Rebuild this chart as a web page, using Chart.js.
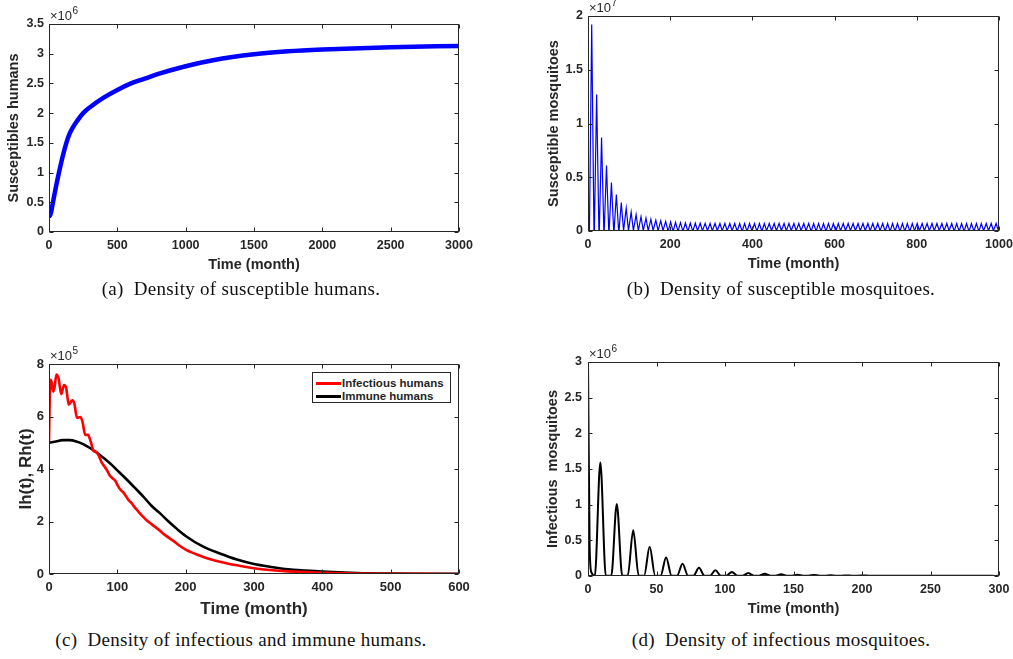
<!DOCTYPE html>
<html><head><meta charset="utf-8">
<script src="https://cdn.jsdelivr.net/npm/chart.js@4"></script>
<style>
html,body{margin:0;padding:0;background:#fff;overflow:hidden;width:1013px;height:659px;position:relative;}
canvas{position:absolute;}
.cap{position:absolute;font-family:'Liberation Serif','Times New Roman',serif;font-size:19px;line-height:18px;color:#111;white-space:pre;letter-spacing:0.3px;transform:translateX(-50%);}
#legend{position:absolute;left:312px;top:372px;width:137px;height:29px;border:1px solid #262626;background:#fff;font:bold 11.5px 'Liberation Sans',Arial,sans-serif;color:#262626;}
#legend .row{position:absolute;left:0;height:13px;line-height:13px;white-space:nowrap;}
#legend .ln{position:absolute;left:3px;top:5px;width:25px;height:3px;}
#legend .tx{position:absolute;left:29px;top:0;}
</style></head>
<body>
<canvas id="ca" width="500" height="280" style="left:0;top:0"></canvas>
<canvas id="cb" width="540" height="280" style="left:500px;top:0"></canvas>
<canvas id="cc" width="500" height="290" style="left:0;top:330px"></canvas>
<canvas id="cd" width="540" height="290" style="left:500px;top:330px"></canvas>
<div id="legend"></div>
<div class="cap" style="left:241px;top:280px">(a)  Density of susceptible humans.</div>
<div class="cap" style="left:781px;top:280px">(b)  Density of susceptible mosquitoes.</div>
<div class="cap" style="left:241px;top:631px">(c)  Density of infectious and immune humans.</div>
<div class="cap" style="left:781px;top:631px">(d)  Density of infectious mosquitoes.</div>
<script>
// ---------- DATA ----------
// (a) susceptible humans, values in units of 10^6
const aTime = [0,5,15,29,50,73,100,127,150,175,200,250,300,400,500,600,700,800,1000,1200,1500,1750,2000,2500,3000];
const aSusHumans = [0.29,0.27,0.33,0.5,0.75,1.0,1.27,1.5,1.65,1.76,1.85,2.0,2.1,2.26,2.39,2.5,2.58,2.66,2.79,2.89,2.99,3.04,3.07,3.11,3.13];

// (b) susceptible mosquitoes, units of 10^7: start, peak times and peak values
const bStart = {t:0, v:0.1};
const bTroughLevel = 0.003;
const bPeakTimes = [9,21,33,45,57,69,81,93,105,117,129,141,153,165,177,189,201,213,225,237,249,261,273,285,297,309,321,333,345,357,369,381,393,405,417,429,441,453,465,477,489,501,513,525,537,549,561,573,585,597,609,621,633,645,657,669,681,693,705,717,729,741,753,765,777,789,801,813,825,837,849,861,873,885,897,909,921,933,945,957,969,981,993];
const bPeakValues = [1.92,1.27,0.87,0.61,0.45,0.34,0.265,0.212,0.176,0.152,0.133,0.12,0.109,0.101,0.095,0.089,0.085,0.081,0.078,0.076,
  0.074,0.073,0.072,0.071,0.07,0.07,0.07,0.07,0.07,0.07,
  0.07,0.07,0.07,0.07,0.07,0.07,0.07,0.07,0.07,0.07,
  0.07,0.07,0.07,0.07,0.07,0.07,0.07,0.07,0.07,0.07,
  0.07,0.07,0.07,0.07,0.07,0.07,0.07,0.07,0.07,0.07,
  0.07,0.07,0.07,0.07,0.07,0.07,0.07,0.07,0.07,0.07,
  0.07,0.07,0.07,0.07,0.07,0.07,0.07,0.07,0.07,0.07,
  0.07,0.07,0.07];

// (c) infectious and immune humans, units of 10^5
const cRedTime = [0,1,2,4,6,8,11,14,18,22,25,29,34,37,41,46,49,53,57,61,65,69,73,77,81,85,89,93,97,101,105,109,113,117,121,125,130,135,140,145,150,160,170,180,190,200,225,250,275,300,350,400,450,500,550,600];
const cInfectious = [5.05,6.6,7.4,7.3,6.95,7.1,7.6,7.45,6.85,7.2,7.1,6.45,6.62,6.5,5.95,5.98,5.8,5.3,5.3,5.05,4.7,4.65,4.5,4.25,4.1,3.95,3.75,3.65,3.55,3.35,3.2,3.1,2.95,2.8,2.7,2.55,2.4,2.25,2.12,2.0,1.9,1.7,1.48,1.3,1.1,0.93,0.66,0.47,0.33,0.22,0.1,0.05,0.02,0.01,0.004,0.002];
const cBlackTime = [0,10,20,30,40,50,60,74,90,100,113,125,138,150,163,175,188,200,225,250,275,300,325,350,375,400,450,500,550,600];
const cImmune = [5.0,5.05,5.1,5.1,5.05,4.95,4.8,4.54,4.2,3.95,3.62,3.3,2.95,2.6,2.3,2.0,1.7,1.45,1.05,0.78,0.55,0.38,0.27,0.18,0.13,0.09,0.04,0.015,0.006,0.003];
const cLabels = ['Infectious humans','Immune humans'];

// (d) infectious mosquitoes, units of 10^6
const dStartTime = [0,1.2,2.5];
const dStartValues = [3.0,0.4,0.05];
const dBaseLevel = 0.005;
const dPeakTimes = [9,21,33,45,57,69,81,93,105,117,129,141,153,165,177,189,201,213,225,237,249,261,273,285,297];
const dPeakValues = [1.59,1.01,0.64,0.41,0.26,0.17,0.115,0.08,0.057,0.042,0.031,0.023,0.017,0.013,0.01,0.008,0.006,0.005,0.004,0.003,0.003,0.002,0.002,0.002,0.001];

// tick settings
const aXTicks = {min:0,max:3000,step:500}, aYTicks = {min:0,max:3.5,step:0.5};
const bXTicks = {min:0,max:1000,step:200}, bYTicks = {min:0,max:2,step:0.5};
const cXTicks = {min:0,max:600,step:100}, cYTicks = {min:0,max:8,step:2};
const dXTicks = {min:0,max:300,step:50}, dYTicks = {min:0,max:3,step:0.5};

// ---------- RENDER ----------
const TXT = '#262626';
const FF = "'Liberation Sans', Arial, sans-serif";
const fmt = v => String(Math.round(v*1000)/1000);

const matlabBox = {
  id:'matlabBox',
  afterDraw(chart, args, opts){
    const {ctx, chartArea:a} = chart;
    const x = chart.scales.x, y = chart.scales.y;
    ctx.save();
    ctx.strokeStyle = TXT; ctx.lineWidth = 1;
    const l = Math.round(a.left)+0.5, r = Math.round(a.right)-0.5, t = Math.round(a.top)+0.5, b = Math.round(a.bottom)-0.5;
    ctx.strokeRect(l, t, r-l, b-t);
    const L = 4;
    ctx.beginPath();
    x.ticks.forEach(tk => { const px = Math.round(x.getPixelForValue(tk.value))+0.5; ctx.moveTo(px,b); ctx.lineTo(px,b-L); ctx.moveTo(px,t); ctx.lineTo(px,t+L); });
    y.ticks.forEach(tk => { const py = Math.round(y.getPixelForValue(tk.value))+0.5; ctx.moveTo(l,py); ctx.lineTo(l+L,py); ctx.moveTo(r,py); ctx.lineTo(r-L,py); });
    ctx.stroke();
    ctx.fillStyle = TXT; ctx.textAlign = 'left'; ctx.textBaseline = 'alphabetic';
    ctx.font = "13px " + FF;
    const base = '\u00d710';
    ctx.fillText(base, a.left+1, a.top-4);
    const w = ctx.measureText(base).width;
    ctx.font = "10px " + FF;
    ctx.fillText(opts.exponent, a.left+1+w+0.5, a.top-10);
    ctx.restore();
  }
};

function makeOptions(c){
  return {
    responsive:false, animation:false, events:[],
    layout:{padding:{top:c.top, right:c.right, left:0, bottom:0}},
    plugins:{legend:{display:false}, tooltip:{enabled:false}, matlabBox:{exponent:c.exp}},
    elements:{point:{radius:0}},
    scales:{
      x:{type:'linear', min:c.xt.min, max:c.xt.max,
         ticks:{stepSize:c.xt.step, padding:6, color:TXT, autoSkip:false, maxRotation:0,
                font:{family:FF, weight:'bold', size:c.tickSize}, callback:v=>fmt(v)},
         grid:{display:false, drawTicks:false, tickLength:0}, border:{display:false},
         title:{display:true, text:'Time (month)', color:TXT, font:{family:FF, weight:'bold', size:c.xTitleSize}, padding:{top:0,bottom:c.xTitlePad}},
         afterFit:s=>{ s.height = c.xH; }},
      y:{type:'linear', min:c.yt.min, max:c.yt.max,
         ticks:{stepSize:c.yt.step, padding:c.yPad, color:TXT, autoSkip:false,
                font:{family:FF, weight:'bold', size:c.tickSize}, callback:v=>fmt(v)},
         grid:{display:false, drawTicks:false, tickLength:0}, border:{display:false},
         title:{display:true, text:c.yTitle, color:TXT, font:{family:FF, weight:'bold', size:c.yTitleSize}, padding:{top:c.yTitlePad,bottom:0}},
         afterFit:s=>{ s.width = c.yW; }}
    }
  };
}
const xy = (ts, vs) => ts.map((t,i)=>({x:t, y:vs[i]}));

// (a)
new Chart(document.getElementById('ca'), {
  type:'line',
  data:{datasets:[{data:xy(aTime,aSusHumans), borderColor:'#0000ff', borderWidth:4.5, cubicInterpolationMode:'monotone', pointRadius:0}]},
  options:makeOptions({top:24,right:41,yW:49,xH:48,xt:aXTicks,yt:aYTicks,exp:'6',tickSize:12.5,
    xTitleSize:14.5,xTitlePad:6.3,yTitle:'Susceptibles humans',yTitleSize:14.5,yTitlePad:5.3,yPad:5}),
  plugins:[matlabBox]
});

// (b)
const bPoints = [{x:bStart.t, y:bStart.v}];
bPeakTimes.forEach((p,i)=>{
  const last = bPoints[bPoints.length-1].x;
  if (p-5.5 > last) bPoints.push({x:p-5.5, y:bTroughLevel});
  bPoints.push({x:p, y:bPeakValues[i]});
  bPoints.push({x:p+5.5, y:bTroughLevel});
});
new Chart(document.getElementById('cb'), {
  type:'line',
  data:{datasets:[{data:bPoints, borderColor:'#0000ff', borderWidth:1.2, tension:0, pointRadius:0}]},
  options:makeOptions({top:16,right:41,yW:88,xH:49,xt:bXTicks,yt:bYTicks,exp:'7',tickSize:12.5,
    xTitleSize:14.5,xTitlePad:7.3,yTitle:'Susceptible mosquitoes',yTitleSize:14.5,yTitlePad:45.3,yPad:5}),
  plugins:[matlabBox]
});

// (c)
const cChart = new Chart(document.getElementById('cc'), {
  type:'line',
  data:{datasets:[
    {label:cLabels[0], data:xy(cRedTime,cInfectious), borderColor:'#ff0000', borderWidth:2.6, cubicInterpolationMode:'monotone', pointRadius:0},
    {label:cLabels[1], data:xy(cBlackTime,cImmune), borderColor:'#000000', borderWidth:2.6, cubicInterpolationMode:'monotone', pointRadius:0}
  ]},
  options:makeOptions({top:34,right:41,yW:49,xH:46,xt:cXTicks,yt:cYTicks,exp:'5',tickSize:13,
    xTitleSize:17,xTitlePad:0.8,yTitle:'Ih(t), Rh(t)',yTitleSize:17,yTitlePad:15.8,yPad:5}),
  plugins:[matlabBox]
});
const leg = document.getElementById('legend');
cChart.data.datasets.forEach((ds,i)=>{
  const row = document.createElement('div');
  row.className = 'row'; row.style.top = (4 + i*13) + 'px';
  const ln = document.createElement('span'); ln.className='ln'; ln.style.background = ds.borderColor;
  const tx = document.createElement('span'); tx.className='tx'; tx.textContent = ds.label;
  row.appendChild(ln); row.appendChild(tx); leg.appendChild(row);
});

// (d)
const dPoints = xy(dStartTime, dStartValues);
dPeakTimes.forEach((p,i)=>{
  dPoints.push({x:p-4, y:dBaseLevel});
  dPoints.push({x:p, y:dPeakValues[i]});
  dPoints.push({x:p+4, y:dBaseLevel});
});
new Chart(document.getElementById('cd'), {
  type:'line',
  data:{datasets:[{data:dPoints, borderColor:'#000000', borderWidth:2, cubicInterpolationMode:'monotone', pointRadius:0}]},
  options:makeOptions({top:32,right:41,yW:88,xH:44,xt:dXTicks,yt:dYTicks,exp:'6',tickSize:12.5,
    xTitleSize:14.5,xTitlePad:2.3,yTitle:'Infectious  mosquitoes',yTitleSize:14.5,yTitlePad:44.3,yPad:6}),
  plugins:[matlabBox]
});
</script>
</body></html>
